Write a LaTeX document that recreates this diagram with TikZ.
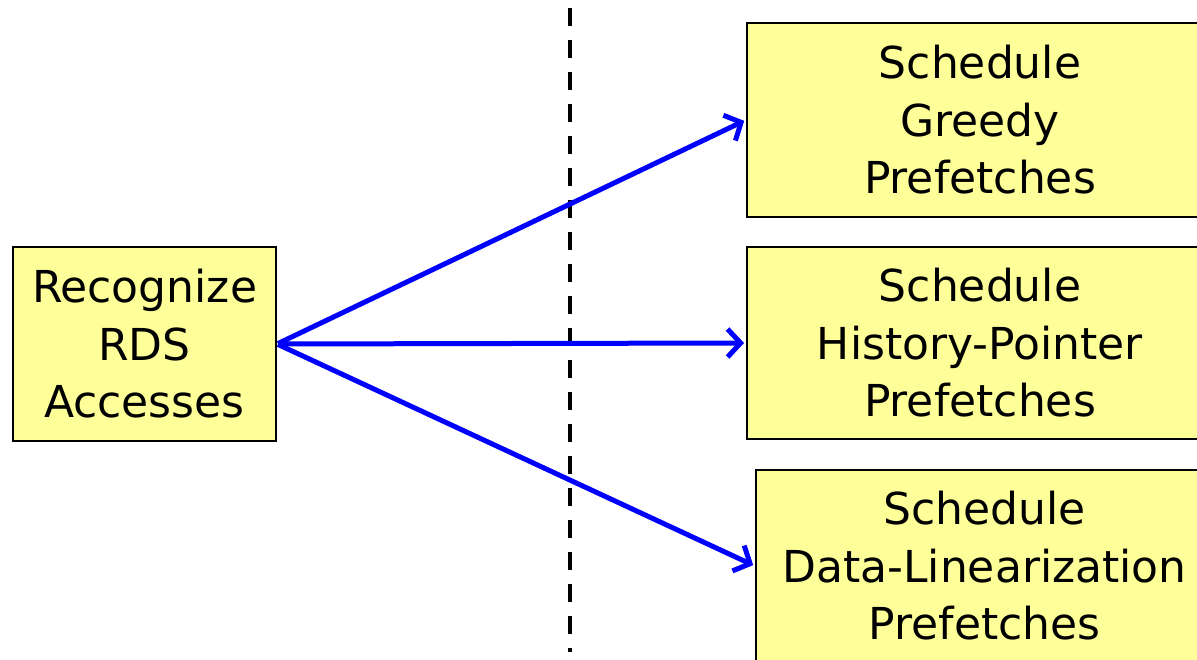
\documentclass[tikz,border=0pt]{standalone}
\usepackage{fontspec}
\setmainfont{DejaVu Sans}
\usetikzlibrary{arrows.meta}
\definecolor{notefill}{HTML}{FFFF99}
\tikzset{
  stage/.style={draw=black, line width=2pt, fill=notefill, rectangle,
    align=center, inner sep=0pt,
    font=\fontsize{44}{57.5}\selectfont},
  flow/.style={draw=blue, line width=5pt,
    -{Straight Barb[length=13pt,width=28pt,line width=5pt]}},
  divider/.style={draw=black, line width=4.5pt, dash pattern=on 18pt off 14pt}
}
\begin{document}
\begin{tikzpicture}[x=1pt,y=-1pt]
  \useasboundingbox (0,0) rectangle (1197,660);
  \clip (0,0) rectangle (1197,660);

  % compile-time / run-time divider
  \coordinate (divtop) at (570,8);
  \coordinate (divbot) at (570,652);
  \draw[divider] (divtop) -- (divbot);

  % stages
  \node[stage, minimum width=263pt, minimum height=194pt] (rec) at (144.5,344)
    {Recognize\\RDS\\Accesses};
  \node[stage, minimum width=466pt, minimum height=194pt] (greedy) at (980,120)
    {Schedule\\Greedy\\Prefetches};
  \node[stage, minimum width=466pt, minimum height=192pt] (hist) at (980,343)
    {Schedule\\History-Pointer\\Prefetches};
  \node[stage, minimum width=457pt, minimum height=192pt] (lin) at (984.5,566)
    {Schedule\\Data-Linearization\\Prefetches};

  % scheduling options
  \draw[flow, shorten <=1pt, shorten >=2pt] (rec.east) -- (greedy.west);
  \draw[flow, shorten <=1pt, shorten >=2pt] (rec.east) -- (hist.west);
  \draw[flow, shorten <=1pt, shorten >=2pt] (rec.east) -- (lin.west);
\end{tikzpicture}
\end{document}
